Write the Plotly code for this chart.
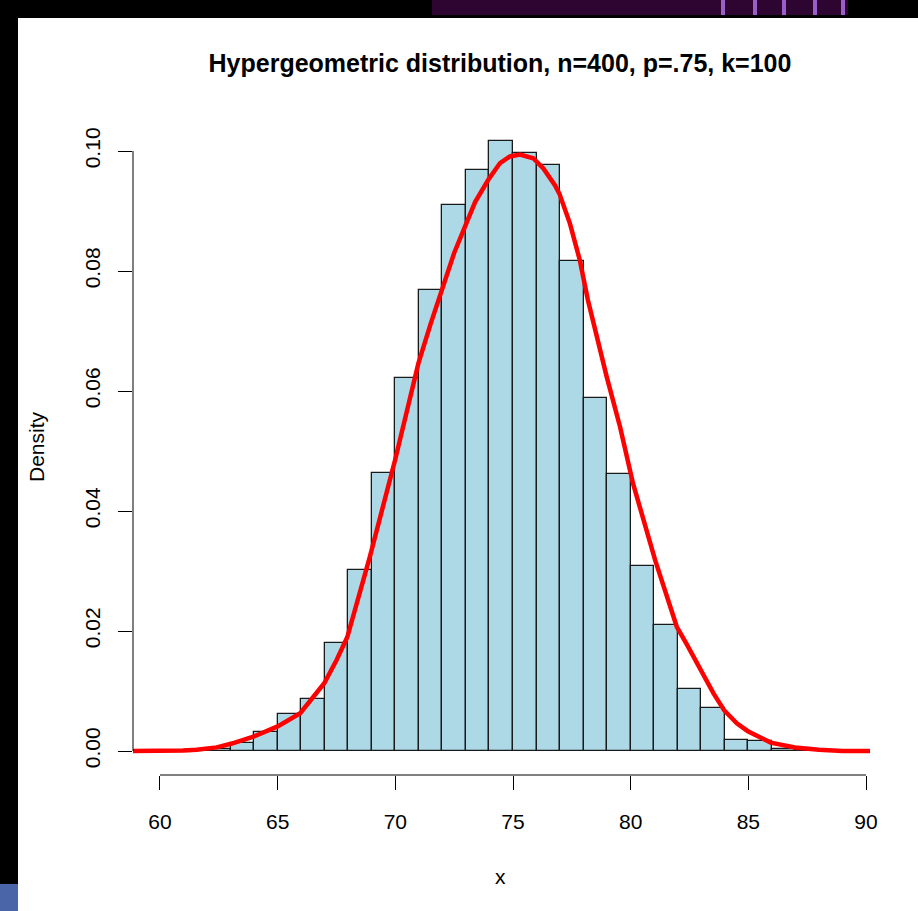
import plotly.graph_objects as go

# ---- data ----
bin_left = list(range(61, 88))
bin_density = [0.0001, 0.0003, 0.0014, 0.0031, 0.0062, 0.0087, 0.0180, 0.0302,
               0.0463, 0.0622, 0.0768, 0.0910, 0.0968, 0.1016, 0.0996, 0.0977,
               0.0817, 0.0589, 0.0461, 0.0309, 0.0210, 0.0104, 0.0072, 0.0018,
               0.0016, 0.0003, 0.0001]

curve_x = [58.5, 60.0, 61.0, 61.56, 62.41, 63.02, 63.97, 65.0, 65.96, 66.98,
           67.51, 67.96, 68.92, 69.99, 70.98, 71.5, 72.0, 72.5, 72.96, 73.39,
           73.95, 74.45, 74.87, 75.3, 75.86, 76.29, 76.78, 76.97, 77.42,
           77.84, 78.18, 78.7, 78.98, 79.55, 80.1, 81.04, 81.5, 81.96, 82.38,
           82.95, 83.52, 83.97, 84.51, 84.98, 85.5, 85.95, 86.98, 88.0, 89.0,
           90.5]
curve_y = [0.0, 0.0, 0.0001, 0.0002, 0.0006, 0.0012, 0.0024, 0.0041, 0.0063,
           0.0113, 0.0152, 0.0190, 0.0324, 0.0485, 0.0646, 0.0712, 0.0771,
           0.0830, 0.0874, 0.0915, 0.0952, 0.0980, 0.0991, 0.0994, 0.0988,
           0.0971, 0.0943, 0.0929, 0.0879, 0.0818, 0.0752, 0.0668, 0.0624,
           0.0540, 0.0446, 0.0318, 0.0260, 0.0207, 0.0178, 0.0135, 0.0096,
           0.0068, 0.0046, 0.0033, 0.0022, 0.0014, 0.0006, 0.0002, 0.0, 0.0]

x_ticks = [60, 65, 70, 75, 80, 85, 90]
y_ticks = [0.00, 0.02, 0.04, 0.06, 0.08, 0.10]
y_ticktext = ["0.00", "0.02", "0.04", "0.06", "0.08", "0.10"]

title_text = "Hypergeometric distribution, n=400, p=.75, k=100"

# ---- layout geometry (pixels) ----
W, H = 918, 911
L, R, T, B = 133, 48, 117, 136
PW, PH = W - L - R, H - T - B


def px2xp(px):
    return (px - L) / PW


def px2yp(py):
    return 1 - (py - T) / PH


FONT = "Liberation Sans, Arial, Helvetica, sans-serif"

fig = go.Figure()
fig.add_trace(go.Bar(
    x=[b + 0.5 for b in bin_left], y=bin_density, width=1,
    marker=dict(color="#ADD8E6", line=dict(color="#1a1a1a", width=1.3)),
    hoverinfo="skip", showlegend=False))
fig.add_trace(go.Scatter(
    x=curve_x, y=curve_y, mode="lines",
    line=dict(color="#FF0000", width=4.5, shape="linear"),
    hoverinfo="skip", showlegend=False))

shapes = [
    # white panel on black background
    dict(type="rect", xref="paper", yref="paper", layer="below",
         x0=px2xp(18), x1=px2xp(918), y0=px2yp(911), y1=px2yp(18),
         fillcolor="white", line=dict(width=0)),
    # purple window strip at top
    dict(type="rect", xref="paper", yref="paper", layer="below",
         x0=px2xp(432), x1=px2xp(848), y0=px2yp(15), y1=px2yp(0),
         fillcolor="#2e0530", line=dict(width=0)),
    # blue corner at bottom left
    dict(type="rect", xref="paper", yref="paper", layer="below",
         x0=px2xp(0), x1=px2xp(18), y0=px2yp(911), y1=px2yp(884),
         fillcolor="#4b66a8", line=dict(width=0)),
    # R-style axis lines
    dict(type="line", xref="x", yref="paper", x0=60, x1=90, y0=0, y1=0,
         line=dict(color="black", width=1)),
    dict(type="line", xref="paper", yref="y", x0=0, x1=0, y0=0, y1=0.10,
         line=dict(color="black", width=1)),
]
for sx in [723, 755, 784, 815, 843]:
    shapes.append(dict(type="rect", xref="paper", yref="paper", layer="below",
                       x0=px2xp(sx - 2), x1=px2xp(sx + 2),
                       y0=px2yp(15), y1=px2yp(0),
                       fillcolor="#9a5ec8", line=dict(width=0)))

annotations = [
    dict(text="x", xref="paper", yref="paper", x=px2xp(500), y=px2yp(876),
         showarrow=False, xanchor="center", yanchor="middle",
         font=dict(family=FONT, size=21, color="black")),
    dict(text="Density", xref="paper", yref="paper", x=px2xp(36), y=px2yp(446),
         showarrow=False, xanchor="center", yanchor="middle", textangle=-90,
         font=dict(family=FONT, size=21, color="black")),
]

fig.update_layout(
    width=W, height=H,
    margin=dict(l=L, r=R, t=T, b=B, pad=0),
    paper_bgcolor="black", plot_bgcolor="white",
    bargap=0, showlegend=False,
    title=dict(text="<b>" + title_text + "</b>", x=px2xp(500), xref="paper",
               xanchor="center", y=1 - 63 / H, yref="container",
               yanchor="middle",
               font=dict(family=FONT, size=25, color="black")),
    shapes=shapes, annotations=annotations,
    xaxis=dict(range=[58.853, 90.17], showgrid=False, zeroline=False,
               showline=False, ticks="outside", ticklen=14, tickwidth=1,
               tickcolor="black", tickvals=x_ticks,
               ticktext=[str(v) for v in x_ticks], ticklabelstandoff=14,
               tickfont=dict(family=FONT, size=21, color="black")),
    yaxis=dict(range=[-0.004, 0.10567], showgrid=False, zeroline=False,
               showline=False, ticks="outside", ticklen=14, tickwidth=1,
               tickcolor="black", tickvals=y_ticks, ticktext=y_ticktext,
               tickangle=-90, ticklabelstandoff=10,
               tickfont=dict(family=FONT, size=21, color="black")),
)

fig.write_html("out.html")
